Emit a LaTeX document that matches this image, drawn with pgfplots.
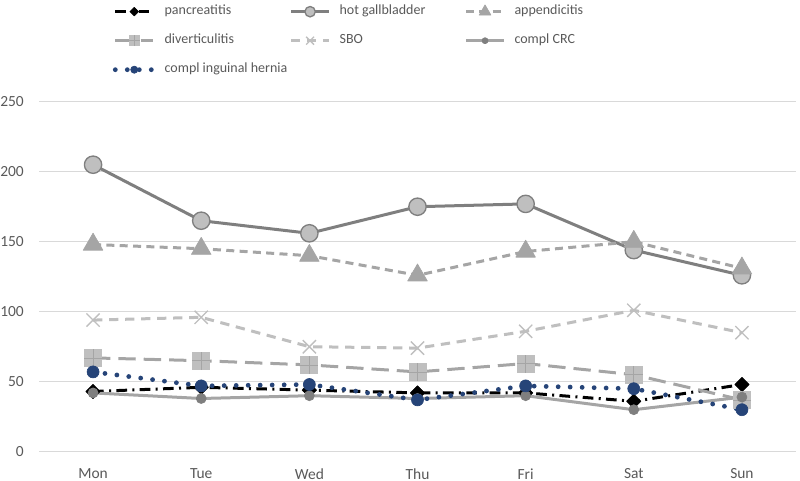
\documentclass[border=0pt]{standalone}
\usepackage{fontspec}
\setmainfont{Carlito}
\usepackage{pgfplots}
\pgfplotsset{compat=1.18}
\usetikzlibrary{plotmarks}

\definecolor{gridgray}{HTML}{D9D9D9}
\definecolor{labelgray}{HTML}{595959}
\definecolor{gmid}{HTML}{7F7F7F}
\definecolor{glight}{HTML}{A5A5A5}
\definecolor{gpale}{HTML}{BFBFBF}
\definecolor{hblue}{HTML}{264478}

\newdimen\px
\px=0.75pt
\newcommand{\legtxt}[1]{\makebox[125\px][l]{#1}}

% square with a plus inside (diverticulitis marker)
\pgfdeclareplotmark{sqplus}{%
  \pgfpathrectangle{\pgfpoint{-\pgfplotmarksize}{-\pgfplotmarksize}}%
    {\pgfpoint{2\pgfplotmarksize}{2\pgfplotmarksize}}%
  \pgfusepath{fill}%
  \pgfpathmoveto{\pgfpoint{-\pgfplotmarksize}{0pt}}%
  \pgfpathlineto{\pgfpoint{\pgfplotmarksize}{0pt}}%
  \pgfpathmoveto{\pgfpoint{0pt}{-\pgfplotmarksize}}%
  \pgfpathlineto{\pgfpoint{0pt}{\pgfplotmarksize}}%
  \pgfusepath{stroke}%
}

\begin{document}
\begin{tikzpicture}
\useasboundingbox (0,0) rectangle (800\px,480\px);
\begin{axis}[
  at={(39\px,28.3\px)}, anchor=south west,
  scale only axis,
  width=757\px, height=350\px,
  xmin=-0.5, xmax=6.5,
  ymin=0, ymax=250,
  xtick={0,...,6},
  xticklabels={Mon,Tue,Wed,Thu,Fri,Sat,Sun},
  ytick={0,50,...,250},
  ymajorgrids,
  grid style={gridgray, line width=0.75pt},
  axis line style={draw=none},
  major tick length=0pt,
  tick label style={font=\fontsize{11.6}{14}\selectfont, text=labelgray},
  /pgf/number format/assume math mode=true,
  xticklabel style={anchor=north, yshift=-12\px},
  yticklabel style={anchor=east, xshift=-10.5\px},
  clip=false,
  legend columns=3,
  legend style={
    at={(0.092,1.285)}, anchor=north west,
    draw=none, fill=none,
    font=\fontsize{10.5}{12}\selectfont,
    text=labelgray,
    nodes={inner sep=0pt, text height=9\px, text depth=3\px},
    /tikz/every odd column/.append style={column sep=9\px},
    /tikz/every even column/.append style={column sep=0pt},
    row sep=17\px,
  },
  legend cell align=left,
  legend image code/.code={%
    \draw[mark repeat=2, mark phase=2, every mark/.append style={scale=0.6}]
      plot coordinates {(0cm,0cm) (0.5cm,0cm) (1cm,0cm)};},
  every axis plot/.append style={line join=round},
]

\draw[gridgray, line width=0.75pt] (axis cs:-0.5,0) -- (axis cs:6.5,0);

% pancreatitis
\addplot[black, line width=2.25pt, dash pattern=on 8pt off 4pt on 1.5pt off 4pt,
  mark=square*, mark size=3.8pt, mark options={solid, rotate=45, fill=black, line width=0.5pt}]
  coordinates {(0,43) (1,46) (2,44) (3,42) (4,42) (5,36) (6,48)};
\addlegendentry{\legtxt{pancreatitis}}

% hot gallbladder
\addplot[gmid, line width=2.25pt,
  mark=*, mark size=6.5pt, mark options={solid, fill=gpale, draw=gmid, line width=1pt}]
  coordinates {(0,205) (1,165) (2,156) (3,175) (4,177) (5,144) (6,126)};
\addlegendentry{\legtxt{hot gallbladder}}

% appendicitis
\addplot[glight, line width=2.25pt, dash pattern=on 6pt off 4pt,
  mark=triangle*, mark size=8.5pt, mark options={solid, fill=glight, draw=glight, line width=0.5pt}]
  coordinates {(0,148) (1,145) (2,140) (3,126) (4,143) (5,150) (6,131)};
\addlegendentry{\legtxt{appendicitis}}

% diverticulitis
\addplot[glight, line width=2.25pt, dash pattern=on 13pt off 6pt,
  mark=sqplus, mark size=6.75pt, mark options={solid, fill=gpale, draw=glight, line width=0.6pt}]
  coordinates {(0,67) (1,65) (2,62) (3,57) (4,63) (5,55) (6,37)};
\addlegendentry{\legtxt{diverticulitis}}

% SBO
\addplot[gpale, line width=2.25pt, dash pattern=on 7pt off 5pt,
  mark=x, mark size=7pt, mark options={solid, draw=gpale, line width=1pt}]
  coordinates {(0,94) (1,96) (2,75) (3,74) (4,86) (5,101) (6,85)};
\addlegendentry{\legtxt{SBO}}

% compl CRC
\addplot[glight, line width=2.25pt,
  mark=*, mark size=3.75pt, mark options={solid, fill=gmid, draw=gmid, line width=0.5pt}]
  coordinates {(0,42) (1,38) (2,40) (3,38) (4,40) (5,30) (6,39)};
\addlegendentry{\legtxt{compl CRC}}

% compl inguinal hernia
\addplot[hblue, line width=3.6pt, line cap=round, dash pattern=on 0pt off 9pt,
  mark=*, mark size=4.5pt, mark options={solid, fill=hblue, draw=hblue, line width=0.5pt}]
  coordinates {(0,57) (1,47) (2,48) (3,37) (4,47) (5,45) (6,30)};
\addlegendentry{\legtxt{compl inguinal hernia}}

\end{axis}
\end{tikzpicture}
\end{document}
